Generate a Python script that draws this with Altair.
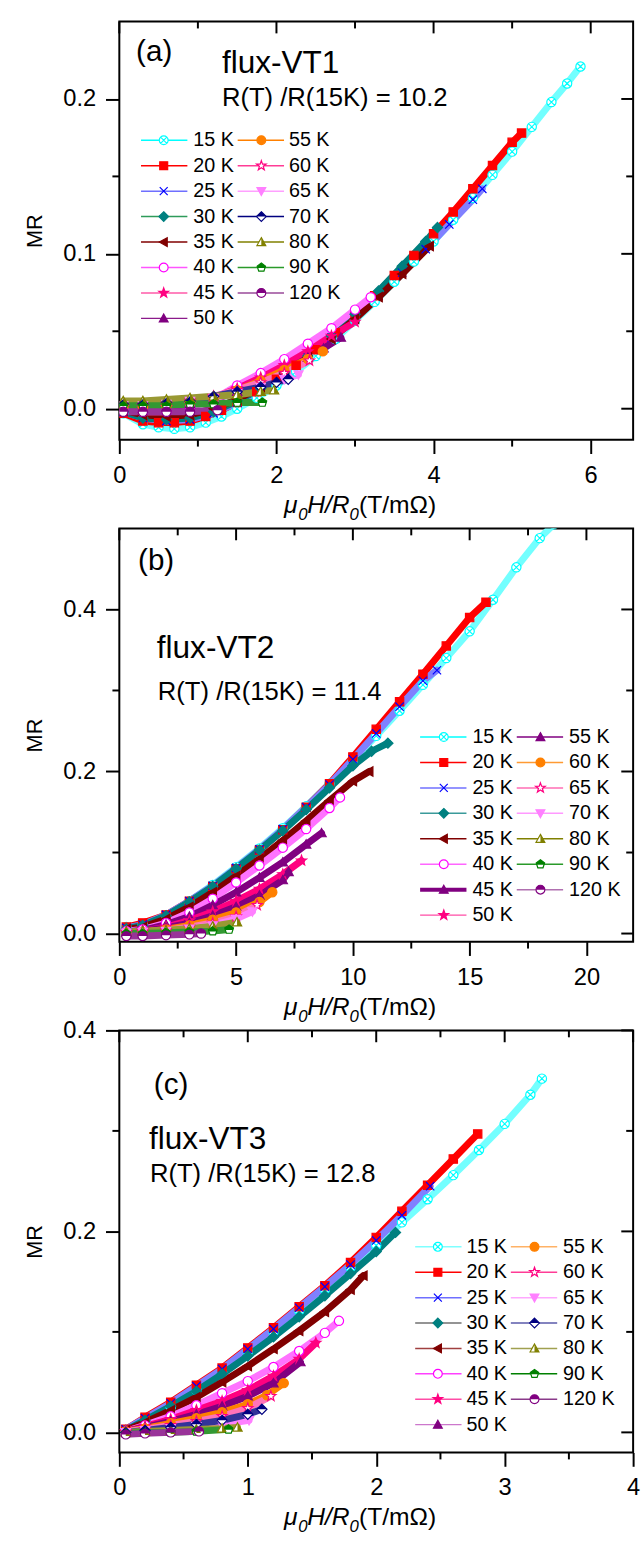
import altair as alt
import pandas as pd

FONT = "Liberation Sans"
TEMPS = [15, 20, 25, 30, 35, 40, 45, 50, 55, 60, 65, 70, 80, 90, 120]
LEFT = 118

# ---------------- panel (a) data ----------------
A_X = {
    15: [0.05, 0.3, 0.5, 0.7, 0.9, 1.1, 1.3, 1.5, 1.75, 2.0, 2.25, 2.5, 2.75, 3.0, 3.25, 3.5, 3.75, 4.0, 4.25, 4.5, 4.75, 5.0, 5.25, 5.5, 5.7, 5.87],
    20: [0.05, 0.3, 0.5, 0.7, 0.9, 1.1, 1.3, 1.5, 1.75, 2.0, 2.25, 2.5, 2.75, 3.0, 3.25, 3.5, 3.75, 4.0, 4.25, 4.5, 4.75, 5.0, 5.12],
    25: [0.05, 0.3, 0.6, 0.9, 1.2, 1.5, 1.8, 2.1, 2.4, 2.7, 3.0, 3.3, 3.6, 3.9, 4.2, 4.5, 4.62],
    30: [0.05, 0.3, 0.6, 0.9, 1.2, 1.5, 1.8, 2.1, 2.4, 2.7, 3.0, 3.3, 3.6, 3.9, 4.05],
    35: [0.05, 0.3, 0.6, 0.9, 1.2, 1.5, 1.8, 2.1, 2.4, 2.7, 3.0, 3.3, 3.6, 3.95],
    40: [0.05, 0.3, 0.6, 0.9, 1.2, 1.5, 1.8, 2.1, 2.4, 2.7, 3.0, 3.2],
    45: [0.05, 0.3, 0.6, 0.9, 1.2, 1.5, 1.8, 2.1, 2.4, 2.7, 3.0],
    50: [0.05, 0.3, 0.6, 0.9, 1.2, 1.5, 1.8, 2.1, 2.4, 2.6, 2.82],
    55: [0.05, 0.3, 0.6, 0.9, 1.2, 1.5, 1.8, 2.1, 2.4, 2.59],
    60: [0.05, 0.3, 0.6, 0.9, 1.2, 1.5, 1.8, 2.1, 2.42],
    65: [0.05, 0.3, 0.6, 0.9, 1.2, 1.5, 1.8, 2.1, 2.28],
    70: [0.05, 0.3, 0.6, 0.9, 1.2, 1.5, 1.8, 2.0, 2.15],
    80: [0.05, 0.3, 0.6, 0.9, 1.2, 1.5, 1.8, 1.97],
    90: [0.05, 0.3, 0.6, 0.9, 1.2, 1.5, 1.82],
    120: [0.05, 0.3, 0.6, 0.9, 1.25],
}
A_Y = {
    15: [-0.003, -0.010, -0.012, -0.013, -0.012, -0.009, -0.005, 0.000, 0.007, 0.015, 0.024, 0.034, 0.045, 0.057, 0.069, 0.082, 0.095, 0.108, 0.122, 0.136, 0.151, 0.166, 0.182, 0.198, 0.210, 0.221],
    20: [-0.003, -0.008, -0.009, -0.009, -0.008, -0.005, -0.001, 0.004, 0.011, 0.019, 0.028, 0.038, 0.049, 0.061, 0.073, 0.086, 0.099, 0.113, 0.127, 0.142, 0.157, 0.172, 0.178],
    25: [-0.002, -0.006, -0.008, -0.007, -0.003, 0.004, 0.012, 0.022, 0.033, 0.046, 0.059, 0.073, 0.088, 0.103, 0.119, 0.135, 0.142],
    30: [-0.002, -0.006, -0.007, -0.006, -0.002, 0.005, 0.013, 0.023, 0.034, 0.047, 0.061, 0.076, 0.092, 0.108, 0.117],
    35: [-0.001, -0.004, -0.005, -0.004, 0.000, 0.006, 0.014, 0.023, 0.033, 0.045, 0.058, 0.072, 0.087, 0.105],
    40: [0.000, -0.002, -0.002, 0.001, 0.006, 0.015, 0.023, 0.032, 0.042, 0.052, 0.064, 0.072],
    45: [0.001, 0.000, 0.001, 0.003, 0.007, 0.013, 0.020, 0.028, 0.037, 0.047, 0.056],
    50: [0.001, 0.000, 0.001, 0.003, 0.006, 0.011, 0.017, 0.024, 0.033, 0.039, 0.046],
    55: [0.001, 0.001, 0.002, 0.004, 0.007, 0.012, 0.018, 0.025, 0.032, 0.037],
    60: [0.002, 0.002, 0.003, 0.005, 0.008, 0.012, 0.017, 0.023, 0.031],
    65: [0.002, 0.002, 0.003, 0.005, 0.007, 0.010, 0.014, 0.019, 0.022],
    70: [0.003, 0.003, 0.004, 0.005, 0.008, 0.011, 0.014, 0.017, 0.019],
    80: [0.005, 0.005, 0.006, 0.007, 0.008, 0.009, 0.011, 0.012],
    90: [0.002, 0.002, 0.002, 0.003, 0.003, 0.004, 0.004],
    120: [-0.002, -0.002, -0.002, -0.002, -0.001],
}

# ---------------- panel (b) data ----------------
B_X = {
    15: [0.3, 1, 2, 3, 4, 5, 6, 7, 8, 9, 10, 11, 12, 13, 14, 15, 16, 17, 18, 18.6],
    20: [0.3, 1, 2, 3, 4, 5, 6, 7, 8, 9, 10, 11, 12, 13, 14, 15, 15.7],
    25: [0.3, 1, 2, 3, 4, 5, 6, 7, 8, 9, 10, 11, 12, 13, 13.6],
    30: [0.3, 1, 2, 3, 4, 5, 6, 7, 8, 9, 10, 10.8, 11.5],
    35: [0.3, 1, 2, 3, 4, 5, 6, 7, 8, 9, 10, 10.7],
    40: [0.3, 1, 2, 3, 4, 5, 6, 7, 8, 9, 9.45],
    45: [0.3, 1, 2, 3, 4, 5, 6, 7, 8, 8.66],
    50: [0.3, 1, 2, 3, 4, 5, 6, 7, 7.8],
    55: [0.3, 1, 2, 3, 4, 5, 6, 7, 7.25],
    60: [0.3, 1, 2, 3, 4, 5, 6, 6.55],
    65: [0.3, 1, 2, 3, 4, 5, 5.9],
    70: [0.3, 1, 2, 3, 4, 5, 5.7],
    80: [0.3, 1, 2, 3, 4, 5.04],
    90: [0.3, 1, 2, 3, 4, 4.7],
    120: [0.3, 1, 2, 3, 3.5],
}
B_Y = {
    15: [0.008, 0.011, 0.022, 0.040, 0.060, 0.082, 0.105, 0.130, 0.157, 0.185, 0.214, 0.244, 0.275, 0.307, 0.340, 0.373, 0.412, 0.452, 0.488, 0.505],
    20: [0.008, 0.013, 0.023, 0.040, 0.058, 0.080, 0.103, 0.128, 0.156, 0.185, 0.218, 0.252, 0.286, 0.320, 0.355, 0.390, 0.409],
    25: [0.007, 0.011, 0.023, 0.040, 0.059, 0.081, 0.104, 0.129, 0.156, 0.184, 0.215, 0.247, 0.280, 0.312, 0.325],
    30: [0.006, 0.010, 0.022, 0.039, 0.058, 0.080, 0.103, 0.127, 0.153, 0.180, 0.207, 0.225, 0.235],
    35: [0.005, 0.008, 0.018, 0.033, 0.051, 0.071, 0.092, 0.115, 0.139, 0.164, 0.188, 0.200],
    40: [0.003, 0.005, 0.013, 0.026, 0.043, 0.063, 0.084, 0.106, 0.129, 0.155, 0.168],
    45: [0.002, 0.004, 0.011, 0.021, 0.035, 0.051, 0.069, 0.088, 0.110, 0.124],
    50: [0.002, 0.003, 0.008, 0.016, 0.027, 0.040, 0.055, 0.073, 0.090],
    55: [0.001, 0.003, 0.007, 0.013, 0.022, 0.033, 0.047, 0.066, 0.076],
    60: [0.001, 0.002, 0.005, 0.010, 0.017, 0.026, 0.039, 0.051],
    65: [0.001, 0.002, 0.004, 0.008, 0.013, 0.021, 0.035],
    70: [0.001, 0.002, 0.003, 0.006, 0.010, 0.018, 0.027],
    80: [0.002, 0.003, 0.004, 0.006, 0.009, 0.014],
    90: [0.000, 0.000, 0.001, 0.002, 0.003, 0.005],
    120: [-0.003, -0.003, -0.002, -0.001, 0.000],
}

# ---------------- panel (c) data ----------------
C_X = {
    15: [0.05, 0.2, 0.4, 0.6, 0.8, 1.0, 1.2, 1.4, 1.6, 1.8, 2.0, 2.2, 2.4, 2.6, 2.8, 3.0, 3.2, 3.29],
    20: [0.05, 0.2, 0.4, 0.6, 0.8, 1.0, 1.2, 1.4, 1.6, 1.8, 2.0, 2.2, 2.4, 2.6, 2.79],
    25: [0.05, 0.2, 0.4, 0.6, 0.8, 1.0, 1.2, 1.4, 1.6, 1.8, 2.0, 2.2, 2.42],
    30: [0.05, 0.2, 0.4, 0.6, 0.8, 1.0, 1.2, 1.4, 1.6, 1.8, 2.0, 2.15],
    35: [0.05, 0.2, 0.4, 0.6, 0.8, 1.0, 1.2, 1.4, 1.6, 1.8, 1.9],
    40: [0.05, 0.2, 0.4, 0.6, 0.8, 1.0, 1.2, 1.4, 1.6, 1.71],
    45: [0.05, 0.2, 0.4, 0.6, 0.8, 1.0, 1.2, 1.4, 1.53],
    50: [0.05, 0.2, 0.4, 0.6, 0.8, 1.0, 1.2, 1.41],
    55: [0.05, 0.2, 0.4, 0.6, 0.8, 1.0, 1.15, 1.28],
    60: [0.05, 0.2, 0.4, 0.6, 0.8, 1.0, 1.18],
    65: [0.05, 0.2, 0.4, 0.6, 0.8, 1.01],
    70: [0.05, 0.2, 0.4, 0.6, 0.8, 1.0, 1.11],
    80: [0.05, 0.2, 0.4, 0.6, 0.8, 0.92],
    90: [0.05, 0.2, 0.4, 0.6, 0.85],
    120: [0.05, 0.2, 0.4, 0.62],
}
C_Y = {
    15: [0.002, 0.010, 0.025, 0.042, 0.060, 0.080, 0.100, 0.121, 0.142, 0.164, 0.186, 0.209, 0.232, 0.256, 0.281, 0.307, 0.336, 0.352],
    20: [0.003, 0.015, 0.030, 0.047, 0.064, 0.084, 0.104, 0.125, 0.146, 0.169, 0.194, 0.220, 0.246, 0.272, 0.297],
    25: [0.003, 0.014, 0.029, 0.046, 0.063, 0.083, 0.103, 0.124, 0.145, 0.167, 0.191, 0.216, 0.245],
    30: [0.002, 0.012, 0.026, 0.041, 0.058, 0.076, 0.095, 0.115, 0.136, 0.158, 0.180, 0.199],
    35: [0.002, 0.010, 0.022, 0.035, 0.050, 0.066, 0.083, 0.101, 0.120, 0.142, 0.156],
    40: [0.001, 0.007, 0.016, 0.027, 0.039, 0.051, 0.065, 0.081, 0.099, 0.111],
    45: [0.001, 0.006, 0.013, 0.022, 0.031, 0.042, 0.056, 0.073, 0.089],
    50: [0.001, 0.005, 0.011, 0.018, 0.026, 0.036, 0.049, 0.070],
    55: [0.001, 0.004, 0.009, 0.014, 0.020, 0.028, 0.037, 0.049],
    60: [0.001, 0.003, 0.007, 0.011, 0.016, 0.024, 0.036],
    65: [0.000, 0.002, 0.004, 0.006, 0.008, 0.012],
    70: [0.000, 0.002, 0.005, 0.008, 0.012, 0.018, 0.023],
    80: [0.000, 0.001, 0.002, 0.003, 0.004, 0.005],
    90: [-0.001, 0.000, 0.000, 0.001, 0.003],
    120: [-0.002, -0.001, 0.000, 0.001],
}

# ---------------- marker shapes (unit box -1..1) ----------------
CIRC = "M1,0A1,1,0,1,1,-1,0A1,1,0,1,1,1,0Z"
SHAPES = {
    "circx": (CIRC + "M-0.7,-0.7L0.7,0.7M-0.7,0.7L0.7,-0.7", ""),
    "square": ("M-0.9,-0.9L0.9,-0.9L0.9,0.9L-0.9,0.9Z", ""),
    "x": ("M-0.9,-0.9L0.9,0.9M-0.9,0.9L0.9,-0.9", ""),
    "diamond": ("M0,-1.1L1.1,0L0,1.1L-1.1,0Z", ""),
    "tri_left": ("M-1,0L0.8,-1L0.8,1Z", ""),
    "circle": (CIRC, ""),
    "star": ("M0,-1.15L0.27,-0.37L1.09,-0.36L0.44,0.14L0.68,0.93L0,0.46L-0.68,0.93L-0.44,0.14L-1.09,-0.36L-0.27,-0.37Z", ""),
    "tri_up": ("M0,-1L1,0.8L-1,0.8Z", ""),
    "tri_down": ("M0,1L1,-0.8L-1,-0.8Z", ""),
    "diamond_half": ("M0,-1.1L1.1,0L0,1.1L-1.1,0Z", "M0,-1.1L1.1,0L-1.1,0Z"),
    "tri_half": ("M0,-1L1,0.8L-1,0.8Z", "M0,-1L1,0.8L0,0.8Z"),
    "pent_half": ("M0,-1L0.951,-0.309L0.588,0.809L-0.588,0.809L-0.951,-0.309Z",
                  "M0,-1L0.951,-0.309L0.82,0.1L-0.82,0.1L-0.951,-0.309Z"),
    "circle_half": (CIRC, "M-1,0A1,1,0,0,1,1,0Z"),
}

# style: shape, marker colour, fill mode, legend line colour, legend line width
STY_A = {
    15: ("circx", "#00FFFF", "open", "#00FFFF", 1.5),
    20: ("square", "#FF0000", "solid", "#FF0000", 1.5),
    25: ("x", "#0000FF", "none", "#6F6FFF", 1.5),
    30: ("diamond", "#008080", "solid", "#2E9B5A", 1.5),
    35: ("tri_left", "#800000", "solid", "#800000", 1.5),
    40: ("circle", "#FF00FF", "open", "#FF55FF", 1.5),
    45: ("star", "#FF0080", "solid", "#FF5AA8", 1.5),
    50: ("tri_up", "#800080", "solid", "#8B1A8B", 1.5),
    55: ("circle", "#FF8000", "solid", "#FF8000", 1.5),
    60: ("star", "#FF0080", "open", "#FF3C96", 1.5),
    65: ("tri_down", "#FF80FF", "solid", "#FFA0FF", 1.5),
    70: ("diamond_half", "#000080", "half", "#000080", 1.5),
    80: ("tri_half", "#808000", "half", "#808000", 1.5),
    90: ("pent_half", "#008000", "half", "#2A9A2A", 1.5),
    120: ("circle_half", "#800080", "half", "#9A4A9A", 1.5),
}
STY_B = {
    15: ("circx", "#00FFFF", "open", "#00FFFF", 1.5),
    20: ("square", "#FF0000", "solid", "#FF0000", 1.5),
    25: ("x", "#0000FF", "none", "#7070FF", 1.5),
    30: ("diamond", "#008080", "solid", "#3A9A9A", 1.5),
    35: ("tri_left", "#800000", "solid", "#800000", 1.5),
    40: ("circle", "#FF00FF", "open", "#FF66FF", 1.5),
    45: ("tri_up", "#800080", "solid", "#800080", 4),
    50: ("star", "#FF0080", "solid", "#FF4DA6", 1.5),
    55: ("tri_up", "#800080", "solid", "#800080", 1.5),
    60: ("circle", "#FF8000", "solid", "#FF9A33", 1.5),
    65: ("star", "#FF0080", "open", "#FF6EB4", 1.5),
    70: ("tri_down", "#FF80FF", "solid", "#FF99FF", 1.5),
    80: ("tri_half", "#808000", "half", "#808000", 1.5),
    90: ("pent_half", "#008000", "half", "#2A9A2A", 1.5),
    120: ("circle_half", "#800080", "half", "#B070B0", 1.5),
}
STY_C = {
    15: ("circx", "#00FFFF", "open", "#7FFFFF", 1.5),
    20: ("square", "#FF0000", "solid", "#FF0000", 1.5),
    25: ("x", "#0000FF", "none", "#6F6FFF", 1.5),
    30: ("diamond", "#008080", "solid", "#707070", 1.5),
    35: ("tri_left", "#800000", "solid", "#A04040", 1.5),
    40: ("circle", "#FF00FF", "open", "#FF40FF", 1.5),
    45: ("star", "#FF0080", "solid", "#FF4DA6", 1.5),
    50: ("tri_up", "#800080", "solid", "#CC77CC", 1.5),
    55: ("circle", "#FF8000", "solid", "#FFB266", 1.5),
    60: ("star", "#FF0080", "open", "#FF3C96", 1.5),
    65: ("tri_down", "#FF80FF", "solid", "#FFA8FF", 1.5),
    70: ("diamond_half", "#000080", "half", "#5A5AAA", 1.5),
    80: ("tri_half", "#808000", "half", "#A0A050", 1.5),
    90: ("pent_half", "#008000", "half", "#008000", 1.5),
    120: ("circle_half", "#800080", "half", "#8A3A8A", 1.5),
}

# ---------------- geometry / texts ----------------
SPACING = 90
W = 521
GEOM = {
    "a": dict(x0=0, x1=6.54, y0=-0.02, y1=0.25, w=W, h=424, top=9),
    "b": dict(x0=0, x1=22, y0=-0.01, y1=0.5, w=W, h=419, top=9 + 424 + SPACING),
    "c": dict(x0=0, x1=4, y0=-0.02, y1=0.4, w=W, h=428, top=9 + 424 + 419 + 2 * SPACING),
}
TICKS = {
    "a": dict(xmaj=[0, 2, 4, 6], xmin=[1, 3, 5], ymaj=[0, 0.1, 0.2], ymin=[0.05, 0.15]),
    "b": dict(xmaj=[0, 5, 10, 15, 20], xmin=[2.5, 7.5, 12.5, 17.5], ymaj=[0, 0.2, 0.4], ymin=[0.1, 0.3]),
    "c": dict(xmaj=[0, 1, 2, 3, 4], xmin=[0.5, 1.5, 2.5, 3.5], ymaj=[0, 0.2, 0.4], ymin=[0.1, 0.3]),
}
# legend: first row y, row step, column (line start, line end, marker, text) in page pixels
LEGEND = {
    "a": (129.4, 25.8, [(140, 187, 163, 193), (238, 285, 262, 290)]),
    "b": (734.5, 25.8, [(423, 470, 447, 476), (521, 568, 545, 574)]),
    "c": (1251.5, 25.75, [(418, 465, 441, 470), (515, 562, 539, 568)]),
}
TEXTS = {
    "a": [("(a)", 135, 40, 30), ("flux-VT1", 222, 51, 32), ("R(T) /R(15K) = 10.2", 222, 87, 26)],
    "b": [("(b)", 137, 556, 30), ("flux-VT2", 156, 644, 32), ("R(T) /R(15K) = 11.4", 157, 689, 26)],
    "c": [("(c)", 153, 1087, 30), ("flux-VT3", 148, 1142, 32), ("R(T) /R(15K) = 12.8", 149, 1178, 26)],
}
XTITLE_IT = [("μ", 0, 0, 25), ("0", 14.4, 7, 17), ("H/R", 23.5, 0, 25), ("0", 66.5, 7, 17)]
XTITLE_UP = [("(T/mΩ)", 76, 0, 25)]
XTITLE_LEFT = 285
XTITLE_DROP = 74
MSIZE = 88
MAJ, MINR, MIRROR_MAJ = 14, 7, 12
BAND_W = 7


def tint(hexcol, f):
    r, g, b = (int(hexcol[i:i + 2], 16) for i in (1, 3, 5))
    mix = lambda c: int(round(c + (255 - c) * f))
    return "#%02X%02X%02X" % (mix(r), mix(g), mix(b))


def build_panel(key, X, Y, STY):
    g = GEOM[key]
    tk = TICKS[key]
    dxp = (g["x1"] - g["x0"]) / g["w"]
    dyp = (g["y1"] - g["y0"]) / g["h"]

    def px2x(px):
        return g["x0"] + (px - LEFT) * dxp

    def py2y(py):
        return g["y1"] - (py - g["top"]) * dyp

    rows = []
    k = 0
    for T in TEMPS:
        xs, ys = X[T], Y[T]
        if len(xs) != len(ys):
            raise ValueError(f"{key} {T}: length mismatch")
        shp, mc, mode, lc, lw = STY[T]
        path, half = SHAPES[shp]
        fc = mc if mode == "solid" else ("transparent" if mode == "none" else "white")
        band = tint(mc, {"solid": 0.0, "half": 0.2, "open": 0.45, "none": 0.5}[mode])
        for x, y in zip(xs, ys):
            rows.append(dict(T=f"{T} K", x=x, y=y, k=k, shape=path, half=half,
                             mc=mc, fc=fc, band=band))
            k += 1
    df = pd.DataFrame(rows)

    xs_ = alt.Scale(domain=[g["x0"], g["x1"]], nice=False, zero=False)
    ys_ = alt.Scale(domain=[g["y0"], g["y1"]], nice=False, zero=False)

    def X_(f, axis=None):
        return alt.X(f, type="quantitative", scale=xs_, axis=axis)

    def Y_(f, axis=None):
        return alt.Y(f, type="quantitative", scale=ys_, axis=axis)

    common = dict(tickWidth=2, tickColor="black", domain=False, grid=False, tickSize=MAJ,
                  labelFont=FONT, labelFontSize=24, labelColor="black", labelPadding=10)
    x_axis = alt.Axis(orient="bottom", values=tk["xmaj"], title=None, labelFlush=False, **common)
    y_axis = alt.Axis(orient="left", values=tk["ymaj"], format=".1f",
                      title="MR", titleFont=FONT, titleFontSize=22,
                      titleFontWeight="normal", titleColor="black", titlePadding=17, **common)

    base = alt.Chart(df)
    bands = base.mark_line(clip=True, strokeWidth=BAND_W, strokeJoin="round", strokeCap="round").encode(
        x=X_("x"), y=Y_("y"), detail="T:N",
        stroke=alt.Stroke("band:N", scale=None),
        order="x:Q")
    points = base.mark_point(clip=True, opacity=1, size=MSIZE, strokeWidth=1.2).encode(
        x=X_("x", x_axis), y=Y_("y", y_axis),
        shape=alt.Shape("shape:N", scale=None),
        stroke=alt.Stroke("mc:N", scale=None),
        fill=alt.Fill("fc:N", scale=None),
        order=alt.Order("k:Q"))
    halfs = base.transform_filter("datum.half != ''").mark_point(
        clip=True, opacity=1, filled=True, size=MSIZE, strokeWidth=0).encode(
        x=X_("x"), y=Y_("y"),
        shape=alt.Shape("half:N", scale=None),
        fill=alt.Fill("mc:N", scale=None),
        order=alt.Order("k:Q"))

    # minor ticks (outside) and mirrored ticks (inside, top and right)
    trows = []
    for v in tk["xmin"]:
        trows.append(dict(xa=v, xb=v, ya=g["y0"], yb=g["y0"] - MINR * dyp))
    for v in tk["ymin"]:
        trows.append(dict(xa=g["x0"], xb=g["x0"] - MINR * dxp, ya=v, yb=v))
    for vals, ln in ((tk["xmaj"], MIRROR_MAJ), (tk["xmin"], MINR)):
        for v in vals:
            trows.append(dict(xa=v, xb=v, ya=g["y1"], yb=g["y1"] - ln * dyp))
    for vals, ln in ((tk["ymaj"], MIRROR_MAJ), (tk["ymin"], MINR)):
        for v in vals:
            trows.append(dict(xa=g["x1"], xb=g["x1"] - ln * dxp, ya=v, yb=v))
    ticks = alt.Chart(pd.DataFrame(trows)).mark_rule(color="black", strokeWidth=2).encode(
        x=X_("xa"), x2="xb:Q", y=Y_("ya"), y2="yb:Q")

    # legend
    y0, dy, cols = LEGEND[key]
    lrows = []
    for i, T in enumerate(TEMPS):
        c = 0 if i < 8 else 1
        r = i if i < 8 else i - 8
        l1, l2, m, t = cols[c]
        shp, mc, mode, lc, lw = STY[T]
        path, half = SHAPES[shp]
        fc = mc if mode == "solid" else ("transparent" if mode == "none" else "white")
        lrows.append(dict(T=f"{T} K", lx1=px2x(l1), lx2=px2x(l2), mx=px2x(m), tx=px2x(t),
                          ly=py2y(y0 + r * dy), shape=path, half=half, mc=mc, fc=fc, lc=lc, lw=lw))
    ldf = pd.DataFrame(lrows)
    lbase = alt.Chart(ldf)
    leg_lines = lbase.mark_rule().encode(
        x=X_("lx1"), x2="lx2:Q", y=Y_("ly"),
        stroke=alt.Stroke("lc:N", scale=None),
        strokeWidth=alt.StrokeWidth("lw:Q", scale=None))
    leg_pts = lbase.mark_point(opacity=1, size=80, strokeWidth=1.2).encode(
        x=X_("mx"), y=Y_("ly"),
        shape=alt.Shape("shape:N", scale=None),
        stroke=alt.Stroke("mc:N", scale=None),
        fill=alt.Fill("fc:N", scale=None))
    leg_half = lbase.transform_filter("datum.half != ''").mark_point(
        opacity=1, filled=True, size=80, strokeWidth=0).encode(
        x=X_("mx"), y=Y_("ly"),
        shape=alt.Shape("half:N", scale=None),
        fill=alt.Fill("mc:N", scale=None))
    leg_text = lbase.mark_text(align="left", baseline="middle", font=FONT, fontSize=20,
                               color="black").encode(x=X_("tx"), y=Y_("ly"), text="T:N")

    # annotations
    adf = pd.DataFrame([dict(s=s, ax=px2x(px), ay=py2y(py), fs=fs) for s, px, py, fs in TEXTS[key]])
    annot = alt.Chart(adf).mark_text(align="left", baseline="middle", font=FONT, color="black").encode(
        x=X_("ax"), y=Y_("ay"), text="s:N", size=alt.Size("fs:Q", scale=None))

    # x-axis title pieces
    by = g["top"] + g["h"] + XTITLE_DROP
    it_df = pd.DataFrame([dict(s=s, ax=px2x(XTITLE_LEFT + dx), ay=py2y(by + ddy), fs=fs)
                          for s, dx, ddy, fs in XTITLE_IT])
    up_df = pd.DataFrame([dict(s=s, ax=px2x(XTITLE_LEFT + dx), ay=py2y(by + ddy), fs=fs)
                          for s, dx, ddy, fs in XTITLE_UP])
    t_it = alt.Chart(it_df).mark_text(align="left", baseline="alphabetic", font=FONT,
                                      fontStyle="italic", color="black").encode(
        x=X_("ax"), y=Y_("ay"), text="s:N", size=alt.Size("fs:Q", scale=None))
    t_up = alt.Chart(up_df).mark_text(align="left", baseline="alphabetic", font=FONT,
                                      color="black").encode(
        x=X_("ax"), y=Y_("ay"), text="s:N", size=alt.Size("fs:Q", scale=None))

    layered = alt.layer(bands, points, halfs, ticks, leg_lines, leg_pts,
                        leg_half, leg_text, annot, t_it, t_up).resolve_axis(x="independent", y="independent")
    return layered.properties(width=g["w"], height=g["h"])


pa = build_panel("a", A_X, A_Y, STY_A)
pb = build_panel("b", B_X, B_Y, STY_B)
pc = build_panel("c", C_X, C_Y, STY_C)

chart = alt.vconcat(pa, pb, pc, spacing=SPACING, bounds="flush").properties(
    padding={"left": 22, "top": 9, "right": 1, "bottom": 0},
).configure_view(stroke="black", strokeWidth=2).configure_text(font=FONT)

chart.save("out.html", embed_options={"renderer": "svg", "actions": False})
